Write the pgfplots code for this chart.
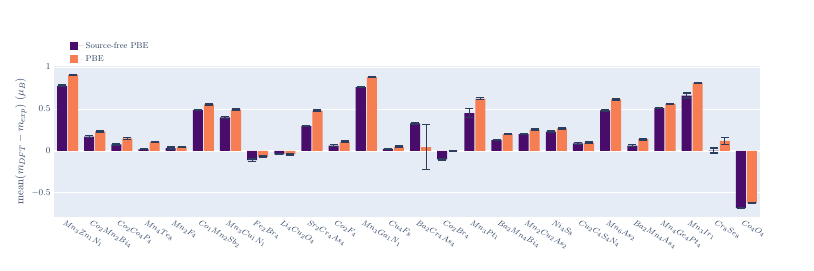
\documentclass[border=0pt]{standalone}
\usepackage{pgfplots}
\usepackage{pgfplotstable}
\pgfplotsset{compat=1.18}
\definecolor{bg}{HTML}{E5ECF6}
\definecolor{cpur}{RGB}{74,12,107}
\definecolor{cora}{RGB}{247,125,82}
\definecolor{cerr}{HTML}{2A3F5F}
\definecolor{ctxt}{HTML}{2A3F5F}

\pgfplotstableread{
x p pe o oe
0 0.775 0.010 0.905 0.008
1 0.170 0.010 0.235 0.008
2 0.080 0.008 0.150 0.010
3 0.020 0.005 0.105 0.008
4 0.035 0.012 0.045 0.008
5 0.490 0.008 0.555 0.008
6 0.400 0.010 0.495 0.008
7 -0.110 0.015 -0.070 0.010
8 -0.040 0.005 -0.040 0.008
9 0.300 0.008 0.480 0.008
10 0.065 0.015 0.110 0.008
11 0.760 0.008 0.880 0.008
12 0.025 0.008 0.050 0.010
13 0.330 0.008 0.045 0.268
14 -0.100 0.008 0.005 0.005
15 0.450 0.055 0.625 0.008
16 0.130 0.008 0.200 0.008
17 0.200 0.008 0.255 0.008
18 0.230 0.008 0.270 0.008
19 0.090 0.008 0.100 0.008
20 0.485 0.008 0.615 0.008
21 0.065 0.008 0.140 0.008
22 0.510 0.008 0.560 0.008
23 0.660 0.030 0.810 0.008
24 0.005 0.030 0.120 0.040
25 -0.680 0.008 -0.620 0.008
}\datatable

\pgfplotsset{
  sq/.style={legend image code/.code={\fill[#1] (0bp,-4bp) rectangle (8bp,4bp); \path (0bp,0bp) -- (14bp,0bp);}},
  myerr/.style={error bars/y dir=both, error bars/y explicit,
    error bars/error bar style={cerr, line width=1.2bp},
    error bars/error mark options={cerr, line width=1.2bp, mark size=4bp, rotate=90}},
}

\begin{document}
\begin{tikzpicture}
\useasboundingbox (-54bp,-54bp) rectangle (760bp,217bp);
\begin{axis}[
  at={(0,0)}, anchor=south west,
  scale only axis, width=706bp, height=151bp,
  ybar=1bp, bar width=0.37,
  xmin=-0.5, xmax=25.5, ymin=-0.786, ymax=1.012,
  axis background/.style={fill=bg},
  axis line style={draw=none},
  major tick length=0pt,
  ymajorgrids, grid style={white, line width=1bp},
  ytick={-0.5,0,0.5,1},
  yticklabels={$-0.5$,$0$,$0.5$,$1$},
  yticklabel style={font=\fontsize{9}{10}\selectfont, text=ctxt},
  xtick={0,...,25},
  xticklabels={$Mn_{3}Zn_{1}N_{1}$,$Co_{2}Mn_{2}Bi_{4}$,$Co_{2}Co_{4}P_{4}$,$Mn_{4}Te_{8}$,$Mn_{2}F_{4}$,$Co_{1}Mn_{2}Sb_{2}$,$Mn_{3}Cu_{1}N_{1}$,$Fe_{2}Br_{4}$,$Li_{4}Cu_{2}O_{4}$,$Sr_{2}Cr_{4}As_{4}$,$Co_{2}F_{4}$,$Mn_{3}Ga_{1}N_{1}$,$Cu_{4}F_{8}$,$Ba_{2}Cr_{4}As_{4}$,$Co_{2}Br_{4}$,$Mn_{3}Pt_{1}$,$Ba_{2}Mn_{4}Bi_{4}$,$Mn_{2}Cu_{2}As_{2}$,$Ni_{4}S_{8}$,$Cu_{2}C_{4}S_{4}N_{4}$,$Mn_{6}As_{2}$,$Ba_{2}Mn_{4}As_{4}$,$Mn_{4}Ge_{4}Pt_{4}$,$Mn_{3}Ir_{1}$,$Cr_{8}Se_{8}$,$Co_{4}O_{4}$},
  xticklabel style={font=\fontsize{8.5}{10}\selectfont, text=ctxt, rotate=-30, anchor=north west, inner sep=1bp, yshift=-2bp, xshift=-2bp},
  ylabel={$\mathrm{mean}(m_{DFT}-m_{exp})\ (\mu_B)$},
  ylabel style={at={(axis description cs:-0.047,0.5)}, anchor=center, font=\fontsize{11}{12}\selectfont, text=ctxt},
  legend style={at={(rel axis cs:0.022,1.172)}, anchor=north west, draw=none, fill=none,
    font=\fontsize{8.5}{10}\selectfont, text=ctxt, row sep=2bp, inner sep=0pt},
  legend cell align=left,
]
\draw[white, line width=2bp] (axis cs:-0.5,0) -- (axis cs:25.5,0);
\addplot+[sq, fill=cpur, draw=none, myerr] table[x=x, y=p, y error=pe] {\datatable};
\addlegendentry{Source-free PBE}
\addplot+[sq, fill=cora, draw=none, myerr] table[x=x, y=o, y error=oe] {\datatable};
\addlegendentry{PBE}
\end{axis}
\end{tikzpicture}
\end{document}
